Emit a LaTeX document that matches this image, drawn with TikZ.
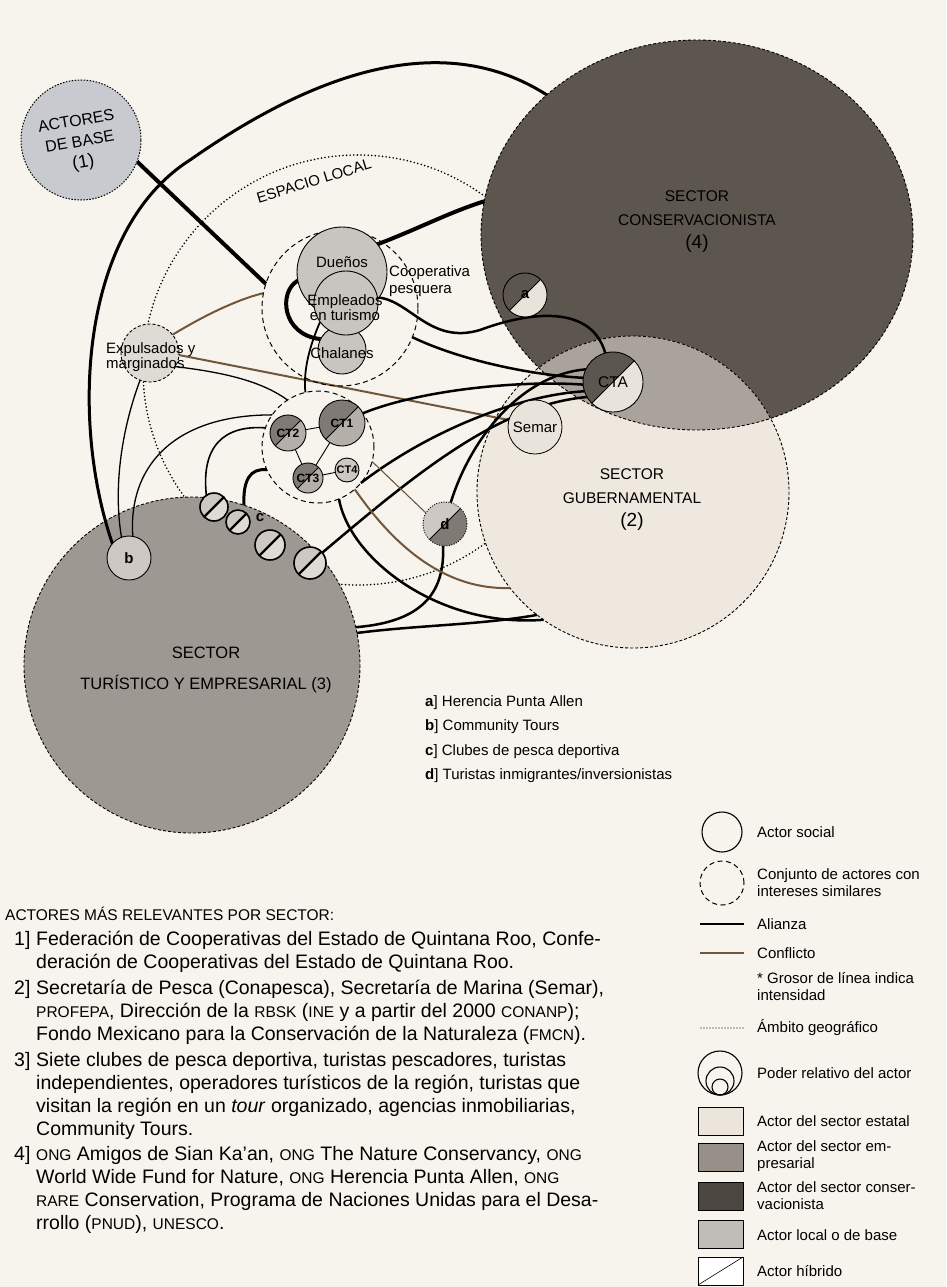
\documentclass[tikz,border=0pt]{standalone}
\usepackage{fontspec}
\setmainfont{Liberation Sans}
\usetikzlibrary{shapes.geometric}
\pgfdeclarelayer{bgl}
\pgfdeclarelayer{back}
\pgfdeclarelayer{lines}
\pgfsetlayers{bgl,back,lines,main}
\definecolor{bgc}{RGB}{247,244,237}
\definecolor{conscol}{RGB}{92,86,78}
\definecolor{gubcol}{RGB}{239,232,222}
\definecolor{ovcol}{RGB}{170,163,155}
\definecolor{turcol}{RGB}{158,152,146}
\definecolor{loccol}{RGB}{200,196,191}
\definecolor{basecol}{RGB}{200,202,207}
\definecolor{brn}{RGB}{112,86,58}
\definecolor{ctdark}{RGB}{128,122,116}
\definecolor{ctlight}{RGB}{180,175,169}
\definecolor{hlight}{RGB}{232,228,220}
\definecolor{cl1}{RGB}{205,200,195}
\definecolor{cl2}{RGB}{222,218,212}
\definecolor{lgest}{RGB}{236,229,219}
\definecolor{lgemp}{RGB}{150,144,137}
\definecolor{lgcons}{RGB}{75,70,64}
\definecolor{lgloc}{RGB}{192,188,183}
\newcommand{\fsz}[2]{\fontsize{#1}{#2}\selectfont}
\newcommand{\hybnode}[8]{%
  \fill[#5] ([shift={(135:#4)}]#2,#3) arc[start angle=135,end angle=315,radius=#4] -- cycle;
  \fill[#6] ([shift={(-45:#4)}]#2,#3) arc[start angle=-45,end angle=135,radius=#4] -- cycle;
  \draw[line width=#7] ([shift={(135:#4)}]#2,#3) -- ([shift={(-45:#4)}]#2,#3);
  \node[circle, inner sep=0pt, outer sep=0pt, minimum size=2*#4pt, draw, line width=0.9pt, #8] (#1) at (#2,#3) {};%
}
\begin{document}
\begin{tikzpicture}[x=1pt,y=-1pt,
  al/.style={line width=2.5pt, black},
  alt/.style={line width=1.3pt, black},
  cf/.style={line width=2pt, brn},
  cft/.style={line width=1.1pt, brn},
  actor/.style={circle, draw, line width=0.9pt, inner sep=0pt, outer sep=0pt},
  grp/.style={circle, draw, line width=1pt, dash pattern=on 5pt off 3.5pt, inner sep=0pt, outer sep=0pt},
  sectorb/.style={line width=0.9pt, dash pattern=on 3pt off 2pt},
  dotl/.style={line width=1.8pt, dash pattern=on 0pt off 3.6pt, line cap=round},
  lbl/.style={inner sep=0pt, align=center, font=\fsz{15}{18}},
  lgt/.style={inner sep=0pt, align=left, font=\fsz{15}{17}},
  lst/.style={inner sep=0pt, anchor=base west, font=\fsz{19.5}{23}}
]
\useasboundingbox (0,0) rectangle (946,1287);
\begin{pgfonlayer}{bgl}
\fill[bgc] (0,0) rectangle (946,1287);
\end{pgfonlayer}

% ---------- sectors (back layer)
\begin{pgfonlayer}{back}
\node[circle, draw, dotl, minimum size=430pt, inner sep=0pt, outer sep=0pt] (esp) at (358,370) {};
\node[ellipse, fill=conscol, minimum width=432pt, minimum height=390pt, inner sep=0pt, outer sep=0pt] (cons) at (697,235) {};
\node[circle, fill=gubcol, minimum size=312pt, inner sep=0pt, outer sep=0pt] (gub) at (633,492) {};
\begin{scope}
  \clip (697,235) ellipse [x radius=216, y radius=195];
  \fill[ovcol] (633,492) circle [radius=156];
\end{scope}
\node[circle, fill=turcol, minimum size=336pt, inner sep=0pt, outer sep=0pt] (tur) at (192,665) {};
\draw[sectorb] (697,235) ellipse [x radius=216, y radius=195];
\draw[sectorb] (633,492) circle [radius=156];
\draw[sectorb] (192,665) circle [radius=168];
\end{pgfonlayer}

% ---------- groups and actors
\node[circle, fill=basecol, draw, line width=1pt, dash pattern=on 1.5pt off 1.5pt, minimum size=120pt, inner sep=0pt, outer sep=0pt] (base) at (81,140) {};
\node[grp, minimum size=156pt] (coop) at (340,308) {};
\node[grp, minimum size=112pt] (ctc) at (318,447) {};

\node[actor, fill=loccol, minimum size=90pt] (duenos) at (342,272) {};
\node[actor, fill=loccol, minimum size=48pt] (chal) at (342,350) {};
\node[actor, fill=loccol, minimum size=64pt] (empl) at (346,303) {};
\node[actor, fill=cl2, draw, dash pattern=on 3pt off 2pt, minimum size=58pt] (expul) at (150,353) {};

\hybnode{ct1}{342}{423}{23}{ctdark}{ctlight}{1pt}{}
\hybnode{ct2}{288}{433}{18}{ctdark}{ctlight}{1pt}{}
\hybnode{ct3}{308}{478}{15}{ctdark}{ctlight}{1pt}{}
\node[actor, fill=cl1, minimum size=24pt] (ct4) at (347,470) {};

\hybnode{c1}{214}{507}{14}{cl1}{cl2}{2.2pt}{line width=1.6pt}
\hybnode{c2}{238}{522}{12}{cl1}{cl2}{2.2pt}{line width=1.6pt}
\hybnode{c3}{270}{545}{15}{cl1}{cl2}{2.2pt}{line width=1.6pt}
\hybnode{c4}{310}{563}{16}{cl1}{cl2}{2.2pt}{line width=1.6pt}

\node[actor, fill=cl1, minimum size=44pt] (b) at (129,558) {};
\hybnode{d}{445}{524}{22}{cl1}{ctdark}{1pt}{dash pattern=on 1pt off 1.5pt}
\node[actor, fill=hlight, line width=0.8pt, minimum size=54pt] (semar) at (535,427) {};
\hybnode{cta}{613}{382}{30}{conscol}{hlight}{1pt}{}
\hybnode{a}{525}{295}{22}{conscol}{hlight}{1pt}{}

% ---------- connectors
\begin{pgfonlayer}{lines}
\draw[al, line width=4pt] (base.-21) -- (coop.162);
\draw[al, line width=3pt] (b.139) .. controls (70,420) and (80,230) .. (190,160) .. controls (290,90) and (430,20) .. (cons.137);
\draw[al, line width=4pt] (duenos.38) .. controls (420,228) and (450,212) .. (cons.171);
\draw[al, line width=4pt] (duenos.191) .. controls (278,292) and (282,335) .. (chal.153);
\draw[cf] (coop.169) .. controls (235,300) and (200,318) .. (expul.39);
\draw[cf] (expul.-4) -- (semar.165);
\draw[alt] (expul.-28) .. controls (220,372) and (260,380) .. (ctc.123);
\draw[alt] (expul.-110) .. controls (125,420) and (112,480) .. (b.110);
\draw[al, line width=1.8pt] (empl.-144) .. controls (310,345) and (303,370) .. (ctc.103);
\draw[al] (empl.10) .. controls (410,300) and (430,345) .. (480,330) .. controls (520,315) and (590,300) .. (cta.105);
\draw[al] (coop.-22) .. controls (460,360) and (530,375) .. (cta.172);
\draw[al] (ct1.25) .. controls (420,390) and (520,380) .. (cta.185);
\draw[al] (ctc.-40) .. controls (430,430) and (520,395) .. (cta.198);
\draw[al] (c4.40) .. controls (420,470) and (500,405) .. (cta.210);
\draw[al] (d.75) .. controls (470,440) and (520,375) .. (cta.155);
\draw[al] (ctc.-68) .. controls (350,560) and (440,628) .. (gub.235);
\draw[al] (d.-95) .. controls (445,595) and (420,622) .. (tur.13);
\draw[al] (tur.11) .. controls (420,625) and (480,625) .. (gub.232);
\draw[cf] (ctc.-49) .. controls (390,540) and (440,590) .. (gub.218);
\draw[cft] (ctc.-15) -- (d.150);
\draw[al, line width=3pt] (tur.72) .. controls (243,480) and (250,468) .. (ctc.204);
\draw[al, line width=1.6pt] (tur.85) .. controls (200,445) and (225,425) .. (ctc.160);
\draw[alt] (b.80) .. controls (128,470) and (170,415) .. (ctc.145);
\draw[alt, line width=0.9pt] (ct2) -- (ct1);
\draw[alt, line width=0.9pt] (ct2) -- (ct3);
\draw[alt, line width=0.9pt] (ct3) -- (ct1);
\draw[alt, line width=0.9pt] (ct3) -- (ct4);
\end{pgfonlayer}

% ---------- labels
\node[lbl, font=\fsz{16}{21}, rotate=10] (tbase) at (80,143) {ACTORES\\DE BASE\\{\fsz{18}{21}(1)}};
\node[lbl, font=\fsz{15}{18}, rotate=17] (tesp) at (314,181) {ESPACIO LOCAL};
\node[lbl] (tdue) at (342,262) {Dueños};
\node[lbl, font=\fsz{15}{15}] (temp) at (345,308) {Empleados\\en turismo};
\node[lbl] (tcha) at (342,353) {Chalanes};
\node[lgt, anchor=west, font=\fsz{15}{17}] (tcoop) at (389,281) {Cooperativa\\pesquera};
\node[lgt, anchor=west, font=\fsz{15}{15}] (texp) at (106,357) {Expulsados y\\marginados};
\node[lbl, font=\bfseries\fsz{12}{14}] at (ct1) {CT1};
\node[lbl, font=\bfseries\fsz{12}{14}] at (ct2) {CT2};
\node[lbl, font=\bfseries\fsz{12}{14}] at (ct3) {CT3};
\node[lbl, font=\bfseries\fsz{11}{14}] at (ct4) {CT4};
\node[lbl, font=\bfseries\fsz{15}{18}] at (b) {b};
\node[lbl, font=\bfseries\fsz{15}{18}] at (d) {d};
\node[lbl, font=\bfseries\fsz{15}{18}] at (a) {a};
\node[lbl, font=\bfseries\fsz{15}{18}] (tc) at (260,518) {c};
\node[lbl, font=\fsz{15.5}{18}] at (cta) {CTA};
\node[lbl] at (semar) {Semar};
\node[lbl, font=\fsz{15.5}{23.5}] (tcons) at (697,222) {SECTOR\\CONSERVACIONISTA\\{\fsz{19}{23.5}(4)}};
\node[lbl, font=\fsz{15.5}{23.5}] (tgub) at (632,500) {SECTOR\\GUBERNAMENTAL\\{\fsz{19}{23.5}(2)}};
\node[lbl, font=\fsz{16.5}{31}] (ttur) at (206,670) {SECTOR\\TURÍSTICO Y EMPRESARIAL (3)};

% ---------- key a-d
\node[lgt, anchor=base west] at (425,706) {\textbf{a}] Herencia Punta Allen};
\node[lgt, anchor=base west] at (425,730.5) {\textbf{b}] Community Tours};
\node[lgt, anchor=base west] at (425,755) {\textbf{c}] Clubes de pesca deportiva};
\node[lgt, anchor=base west] at (425,779.5) {\textbf{d}] Turistas inmigrantes/inversionistas};

% ---------- legend
\node[actor, line width=1.1pt, minimum size=40pt] (lg1) at (722,832) {};
\node[lgt, anchor=west] at (757,832) {Actor social};
\node[grp, minimum size=44pt] (lg2) at (722,883) {};
\node[lgt, anchor=west] at (757,883) {Conjunto de actores con\\intereses similares};
\coordinate (la1) at (700,924); \coordinate (la2) at (744,924);
\draw[al] (la1) -- (la2);
\node[lgt, anchor=west] at (757,924) {Alianza};
\coordinate (lc1) at (700,953); \coordinate (lc2) at (744,953);
\draw[cf] (lc1) -- (lc2);
\node[lgt, anchor=west] at (757,953) {Conflicto};
\node[lgt, anchor=west] at (757,987) {* Grosor de línea indica\\intensidad};
\coordinate (ld1) at (701,1028); \coordinate (ld2) at (744,1028);
\draw[line width=1.3pt, dash pattern=on 0pt off 3pt, line cap=round] (ld1) -- (ld2);
\node[lgt, anchor=west] at (757,1028) {Ámbito geográfico};
\draw[line width=1.1pt] (720,1073) circle [radius=22];
\draw[line width=1.1pt] (720,1081) circle [radius=14];
\draw[line width=1.1pt] (720,1087) circle [radius=8];
\node[lgt, anchor=west] at (757,1073) {Poder relativo del actor};
\draw[fill=lgest, line width=0.6pt] (698,1107) rectangle (743,1135);
\node[lgt, anchor=west] at (757,1121) {Actor del sector estatal};
\draw[fill=lgemp, line width=0.6pt] (698,1143) rectangle (743,1171);
\node[lgt, anchor=west] at (757,1156) {Actor del sector em-\\presarial};
\draw[fill=lgcons, line width=0.6pt] (698,1182) rectangle (743,1210);
\node[lgt, anchor=west] at (757,1196) {Actor del sector conser-\\vacionista};
\draw[fill=lgloc, line width=0.6pt] (698,1220) rectangle (743,1248);
\node[lgt, anchor=west] at (757,1235) {Actor local o de base};
\draw[fill=white, line width=0.6pt] (698,1257) rectangle (743,1285);
\draw[line width=0.6pt] (698,1285) -- (743,1257);
\node[lgt, anchor=west] at (757,1271) {Actor híbrido};

% ---------- list
\newcommand{\smc}[1]{{\fsz{15.5}{18}#1}}
\node[inner sep=0pt, anchor=base west, font=\fsz{15.5}{18}] at (5,920) {ACTORES MÁS RELEVANTES POR SECTOR:};
\node[lst] at (14,945) {1]};
\node[lst] at (36,945) {Federación de Cooperativas del Estado de Quintana Roo, Confe-};
\node[lst] at (36,968) {deración de Cooperativas del Estado de Quintana Roo.};
\node[lst] at (14,994) {2]};
\node[lst] at (36,994) {Secretaría de Pesca (Conapesca), Secretaría de Marina (Semar),};
\node[lst] at (36,1017) {\smc{PROFEPA}, Dirección de la \smc{RBSK} (\smc{INE} y a partir del 2000 \smc{CONANP});};
\node[lst] at (36,1040) {Fondo Mexicano para la Conservación de la Naturaleza (\smc{FMCN}).};
\node[lst] at (14,1066) {3]};
\node[lst] at (36,1066) {Siete clubes de pesca deportiva, turistas pescadores, turistas};
\node[lst] at (36,1089) {independientes, operadores turísticos de la región, turistas que};
\node[lst] at (36,1112) {visitan la región en un \textit{tour} organizado, agencias inmobiliarias,};
\node[lst] at (36,1135) {Community Tours.};
\node[lst] at (14,1160) {4]};
\node[lst] at (36,1160) {\smc{ONG} Amigos de Sian Ka’an, \smc{ONG} The Nature Conservancy, \smc{ONG}};
\node[lst] at (36,1183) {World Wide Fund for Nature, \smc{ONG} Herencia Punta Allen, \smc{ONG}};
\node[lst] at (36,1206) {\smc{RARE} Conservation, Programa de Naciones Unidas para el Desa-};
\node[lst] at (36,1229) {rrollo (\smc{PNUD}), \smc{UNESCO}.};
\end{tikzpicture}
\end{document}
